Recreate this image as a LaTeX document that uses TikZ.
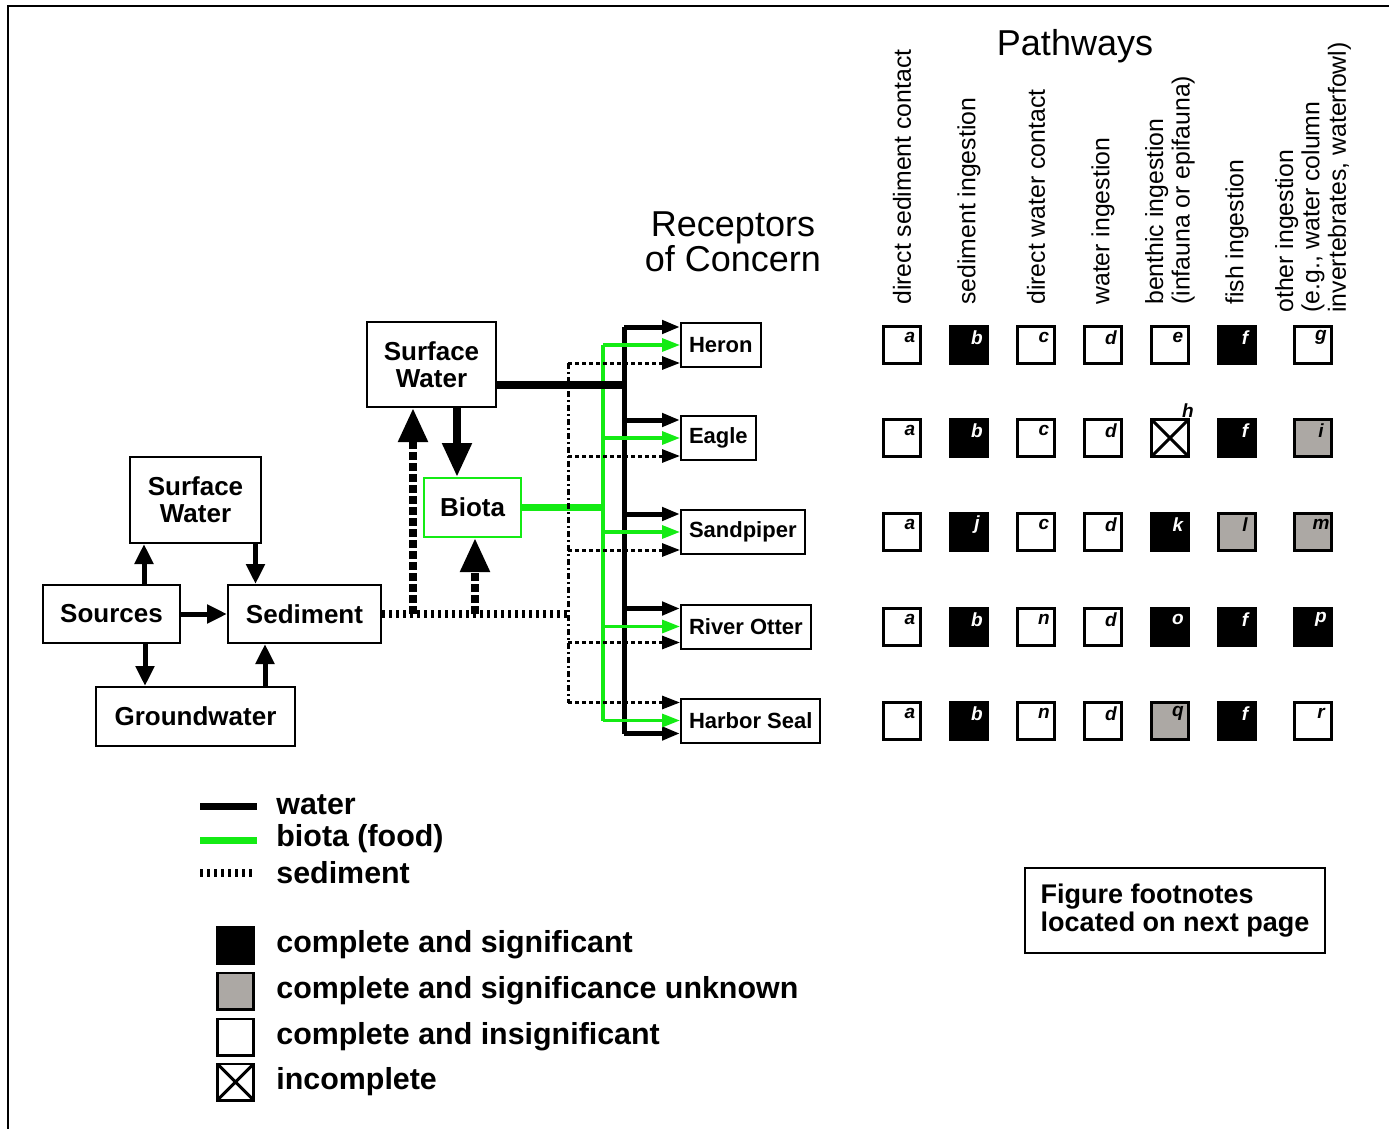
\documentclass[tikz,border=0pt]{standalone}
\usepackage{fontspec}
\setmainfont{Liberation Sans}
\usetikzlibrary{arrows.meta,calc}
\definecolor{food}{RGB}{20,235,20}
\definecolor{unk}{RGB}{172,168,164}
\tikzset{
  box/.style={draw, line width=1pt, align=center, inner sep=0pt,
    font=\bfseries\fontsize{13}{13.5}\selectfont},
  rec/.style={draw, line width=1pt, anchor=west, minimum height=22pt,
    inner xsep=4pt, inner ysep=0pt, font=\bfseries\fontsize{11}{11}\selectfont},
  arr/.style={line width=2.5pt, -{Triangle[length=10pt,width=9pt]}},
  bigarr/.style={line width=4pt, -{Triangle[length=17pt,width=14pt]}},
  sedup/.style={bigarr, dash pattern=on 4pt off 1.5pt},
  tip/.style={-{Triangle[length=9pt,width=6.5pt]}},
  wline/.style={line width=2.5pt},
  gline/.style={food, line width=1.6pt},
  sline/.style={line width=4pt, dash pattern=on 1.5pt off 2pt},
  strunk/.style={line width=1.5pt, dash pattern=on 3pt off 1.5pt on 1pt off 1.5pt},
  sbranch/.style={line width=1.5pt, dash pattern=on 1.75pt off 1.75pt},
  pwlabel/.style={rotate=90, anchor=west, align=left, inner sep=0pt,
    font=\fontsize{12.4}{13.2}\selectfont},
  cross/.style={path picture={\draw[line width=1.5pt]
    (path picture bounding box.north west) -- (path picture bounding box.south east)
    (path picture bounding box.north east) -- (path picture bounding box.south west);}},
  cell/.style={draw, line width=1.5pt, minimum size=18.5pt, inner sep=0pt},
  celltag/.style={inner sep=0pt, shift={(4pt,3.6pt)},
    font=\bfseries\itshape\fontsize{9.5}{9.5}\selectfont},
  cw/.style={cell, fill=white, label={[celltag]center:#1}},
  cb/.style={cell, fill=black, label={[celltag, text=white]center:#1}},
  cg/.style={cell, fill=unk, label={[celltag]center:#1}},
  cx/.style={cell, fill=white, cross, label={[celltag, shift={(5pt,9.9pt)}]center:#1}},
  legtxt/.style={anchor=west, inner sep=0pt, font=\bfseries\fontsize{15.2}{15.2}\selectfont},
  legsq/.style={draw, line width=1.3pt, minimum size=18.2pt, inner sep=0pt}
}
\begin{document}
\begin{tikzpicture}[x=0.5pt, y=-0.5pt]
\useasboundingbox (0,0) rectangle (1389,1129);
\draw[line width=1.3pt] (1389,6) -- (8,6) -- (8,1129);

% sources and media
\node[box, minimum width=65.5pt, minimum height=43pt] (SWa) at (195.5,500) {Surface\\Water};
\node[box, minimum width=68.5pt, minimum height=29pt] (Src) at (111.5,614) {Sources};
\node[box, minimum width=76.5pt, minimum height=29pt] (Sed) at (304.5,614) {Sediment};
\node[box, minimum width=99.5pt, minimum height=29.5pt] (GW) at (195.5,716.5) {Groundwater};
\node[box, minimum width=64.5pt, minimum height=42.5pt] (SWb) at (431.5,364.5) {Surface\\Water};
\node[box, draw=food, minimum width=48.5pt, minimum height=29.5pt] (Biota) at (472.5,507.5) {Biota};

\coordinate (up1) at ($(Src.north)+(32.5,0)$);
\coordinate (dn1) at ($(SWa.south)+(60,0)$);
\coordinate (dn2) at ($(Src.south)+(33.5,0)$);
\coordinate (up2) at ($(GW.north)+(69.5,0)$);
\draw[arr] (up1) -- (up1 |- SWa.south);
\draw[arr] (dn1) -- (dn1 |- Sed.north);
\draw[arr] (Src) -- (Sed);
\draw[arr] (dn2) -- (dn2 |- GW.north);
\draw[arr] (up2) -- (up2 |- Sed.south);

% receptors
\node at (733,242) [align=center, font=\fontsize{18}{17.5}\selectfont] (roc) {Receptors\\of Concern};
\node[rec] (Heron) at (680,345) {Heron};
\node[rec] (Eagle) at (680,438) {Eagle};
\node[rec] (Sandpiper) at (680,532) {Sandpiper};
\node[rec] (Otter) at (680,626.5) {River Otter};
\node[rec] (Seal) at (680,720.5) {Harbor Seal};

\coordinate (sbus) at (568,614);
\coordinate (gbus) at (603,512);
\coordinate (wbus) at (624,385);
\coordinate (swout) at ($(SWb.east)+(0,20.5)$);
\coordinate (sw-in) at ($(SWb.south)+(-18.5,0)$);
\coordinate (bio-in) at ($(Biota.south)+(2.5,0)$);
\coordinate (bio-top) at ($(Biota.north)+(-15.5,0)$);

\foreach \r/\dw/\ds in {Heron/-18/18, Eagle/-18/18, Sandpiper/-18/18, Otter/-18/16, Seal/13/-18}{
  \coordinate (\r-w) at ($(\r.west)+(0,\dw)$);
  \coordinate (\r-s) at ($(\r.west)+(0,\ds)$);
}

\draw[gline] (Heron.west -| gbus) -- (Seal.west -| gbus);
\draw[gline, line width=3.5pt] (Biota.east) -- (Biota.east -| gbus);
\draw[line width=4pt] (swout) -- (swout -| wbus);
\draw[wline] (Heron-w -| wbus) -- (Seal-w -| wbus);
\draw[bigarr] (bio-top |- SWb.south) -- (bio-top);

\foreach \r in {Heron,Eagle,Sandpiper,Otter,Seal}{
  \draw[wline, tip] (\r-w -| wbus) -- (\r-w);
  \draw[gline, tip] (\r.west -| gbus) -- (\r.west);
  \draw[sbranch, tip] (\r-s -| sbus) -- (\r-s);
}

\draw[strunk] (Heron-s -| sbus) -- (Seal-s -| sbus);
\draw[sline] (Sed.east) -- (sbus);
\draw[sedup] (sw-in |- Sed.east) -- (sw-in);
\draw[sedup] (bio-in |- Sed.east) -- (bio-in);

% pathways
\node[font=\fontsize{18}{18}\selectfont] (pw) at (1075,46) {Pathways};
\node[pwlabel] (p1) at (902,305) {direct sediment contact};
\node[pwlabel] (p2) at (969,305) {sediment ingestion};
\node[pwlabel] (p3) at (1036,305) {direct water contact};
\node[pwlabel] (p4) at (1103,305) {water ingestion};
\node[pwlabel] (p5) at (1170,305) {benthic ingestion\\(infauna or epifauna)};
\node[pwlabel] (p6) at (1237,305) {fish ingestion};
\node[pwlabel] (p7) at (1313,313) {other ingestion\\(e.g., water column\\invertebrates, waterfowl)};

\foreach \r/\row in {Heron/{a/cw,b/cb,c/cw,d/cw,e/cw,f/cb,g/cw},
                     Eagle/{a/cw,b/cb,c/cw,d/cw,h/cx,f/cb,i/cg},
                     Sandpiper/{a/cw,j/cb,c/cw,d/cw,k/cb,l/cg,m/cg},
                     Otter/{a/cw,b/cb,n/cw,d/cw,o/cb,f/cb,p/cb},
                     Seal/{a/cw,b/cb,n/cw,d/cw,q/cg,f/cb,r/cw}}{
  \foreach \l/\k [count=\c] in \row
    \node[\k=\l] (\r\c) at (p\c |- \r) {};
}

% legend
\node[legtxt] (lw) at (276,805) {water};
\node[legtxt] (lb) at (276,839) {biota (food)};
\node[legtxt] (ls) at (276,873) {sediment};
\draw[line width=3.5pt] ($(lw.west)+(-76,1)$) -- ($(lw.west)+(-19,1)$);
\draw[food, line width=3.5pt] ($(lb.west)+(-76,1)$) -- ($(lb.west)+(-19,1)$);
\draw[sline] ($(ls.west)+(-76,0)$) -- ($(ls.west)+(-21,0)$);

\node[legsq, fill=black] (k1) at (235.5,945) {};
\node[legsq, fill=unk] (k2) at (235.5,991) {};
\node[legsq, fill=white] (k3) at (235.5,1037) {};
\node[legsq, fill=white, cross] (k4) at (235.5,1082) {};
\node[legtxt] at (k1 -| lw.west) {complete and significant};
\node[legtxt] at (k2 -| lw.west) {complete and significance unknown};
\node[legtxt] at (k3 -| lw.west) {complete and insignificant};
\node[legtxt] at (k4 -| lw.west) {incomplete};

\node[draw, line width=1pt, minimum width=150pt, minimum height=42.5pt, align=left,
  font=\bfseries\fontsize{13.5}{14}\selectfont] (note) at (1175,910.5) {Figure footnotes\\located on next page};
\end{tikzpicture}
\end{document}
